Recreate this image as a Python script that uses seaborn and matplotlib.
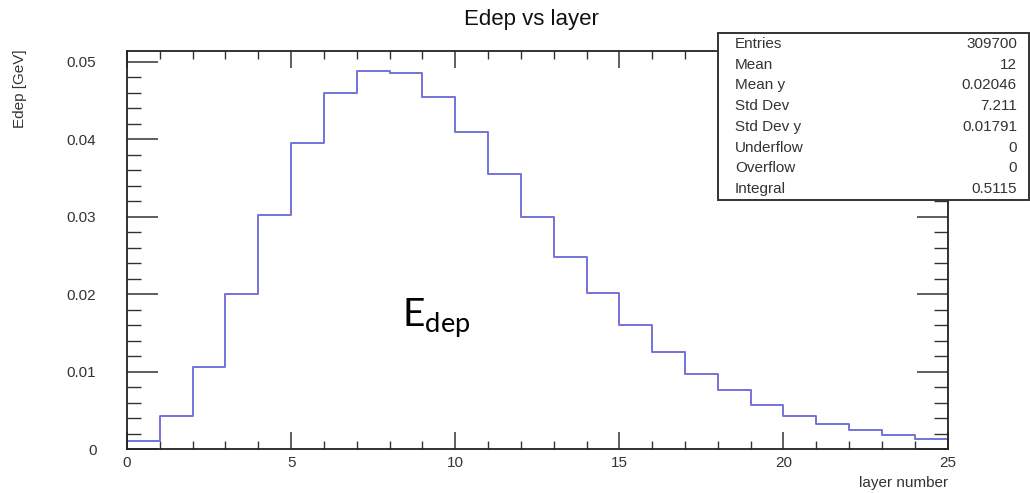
import numpy as np
import pandas as pd
import matplotlib
matplotlib.use("Agg")
import matplotlib.pyplot as plt
from matplotlib.patches import Rectangle
from matplotlib.ticker import MultipleLocator
import seaborn as sns

# ---- data ----
layer_edges = list(range(26))
layer_centers = [i + 0.5 for i in range(25)]
edep_values = [0.0011, 0.0042, 0.0106, 0.0200, 0.0302, 0.0395, 0.0460, 0.0488,
               0.0486, 0.0455, 0.0409, 0.0355, 0.0299, 0.0248, 0.0202, 0.0160,
               0.0125, 0.0097, 0.0076, 0.0057, 0.0043, 0.0032, 0.0024, 0.0018,
               0.0013]
stat_labels = ["Entries", "Mean", "Mean y", "Std Dev", "Std Dev y",
               "Underflow", "Overflow", "Integral"]
stat_values = ["309700", "12", "0.02046", "7.211", "0.01791", "0", "0", "0.5115"]
y_ticks = [0, 0.01, 0.02, 0.03, 0.04, 0.05]
y_tick_labels = ["0", "0.01", "0.02", "0.03", "0.04", "0.05"]
x_ticks = [0, 5, 10, 15, 20, 25]

sns.set_theme(style="white")
plt.rcParams["font.family"] = ["Liberation Sans", "DejaVu Sans"]

fig = plt.figure(figsize=(10.3, 4.93), dpi=100)
ax = fig.add_axes([0.1233, 0.0892, 0.920 - 0.1233, 0.8966 - 0.0892])

df = pd.DataFrame({"layer": layer_centers, "edep": edep_values})
sns.histplot(data=df, x="layer", weights="edep", bins=layer_edges,
             element="step", fill=False, color="#7272da", linewidth=1.4, ax=ax)

ax.set_xlim(0, 25)
ax.set_ylim(0, 0.0514)
ax.set_xticks(x_ticks)
ax.set_xticklabels([str(t) for t in x_ticks])
ax.set_yticks(y_ticks)
ax.set_yticklabels(y_tick_labels)
ax.xaxis.set_minor_locator(MultipleLocator(1))
ax.yaxis.set_minor_locator(MultipleLocator(0.002))
ax.tick_params(which="major", direction="in", length=12, width=1.1,
               top=True, right=True, bottom=True, left=True,
               labelsize=11, color="#333333", labelcolor="#333333")
ax.tick_params(axis="x", which="major", pad=5)
ax.tick_params(axis="y", which="major", length=22, pad=22)
ax.tick_params(which="minor", direction="in", length=6, width=1.0,
               top=True, right=True, bottom=True, left=True, color="#333333")
ax.tick_params(axis="y", which="minor", length=10)
for s in ax.spines.values():
    s.set_color("#222222")
    s.set_linewidth(1.3)
ax.set_xlabel("")
ax.set_ylabel("")

fig.text(531 / 1030, 1 - 19 / 493, "Edep vs layer", ha="center", va="center",
         fontsize=16, color="#111111")
fig.text(20 / 1030, 1 - 49 / 493, "Edep [GeV]", rotation=90, ha="center",
         va="top", fontsize=11, color="#333333")
fig.text(948 / 1030, 1 - 483 / 493, "layer number", ha="right", va="center",
         fontsize=11, color="#333333")

ax.text(8.38, 0.0157, r"$\mathregular{E_{dep}}$", fontsize=28,
        family=["Lato", "DejaVu Sans"], color="black", ha="left",
        va="baseline")

# stats box
bx0, by0 = 718 / 1030, 1 - 200 / 493
bw, bh = (1029 - 718) / 1030, (200 - 33) / 493
fig.patches.append(Rectangle((bx0, by0), bw, bh, transform=fig.transFigure,
                             facecolor="white", edgecolor="#333333",
                             linewidth=1.4, zorder=5))
for i, (lab, val) in enumerate(zip(stat_labels, stat_values)):
    yy = 1 - (44 + i * 20.7) / 493
    fig.text(735 / 1030, yy, lab, ha="left", va="center", fontsize=11,
             color="#333333", zorder=6)
    fig.text(1017 / 1030, yy, val, ha="right", va="center", fontsize=11,
             color="#333333", zorder=6)

fig.savefig("out.png", dpi=100, facecolor="white")
